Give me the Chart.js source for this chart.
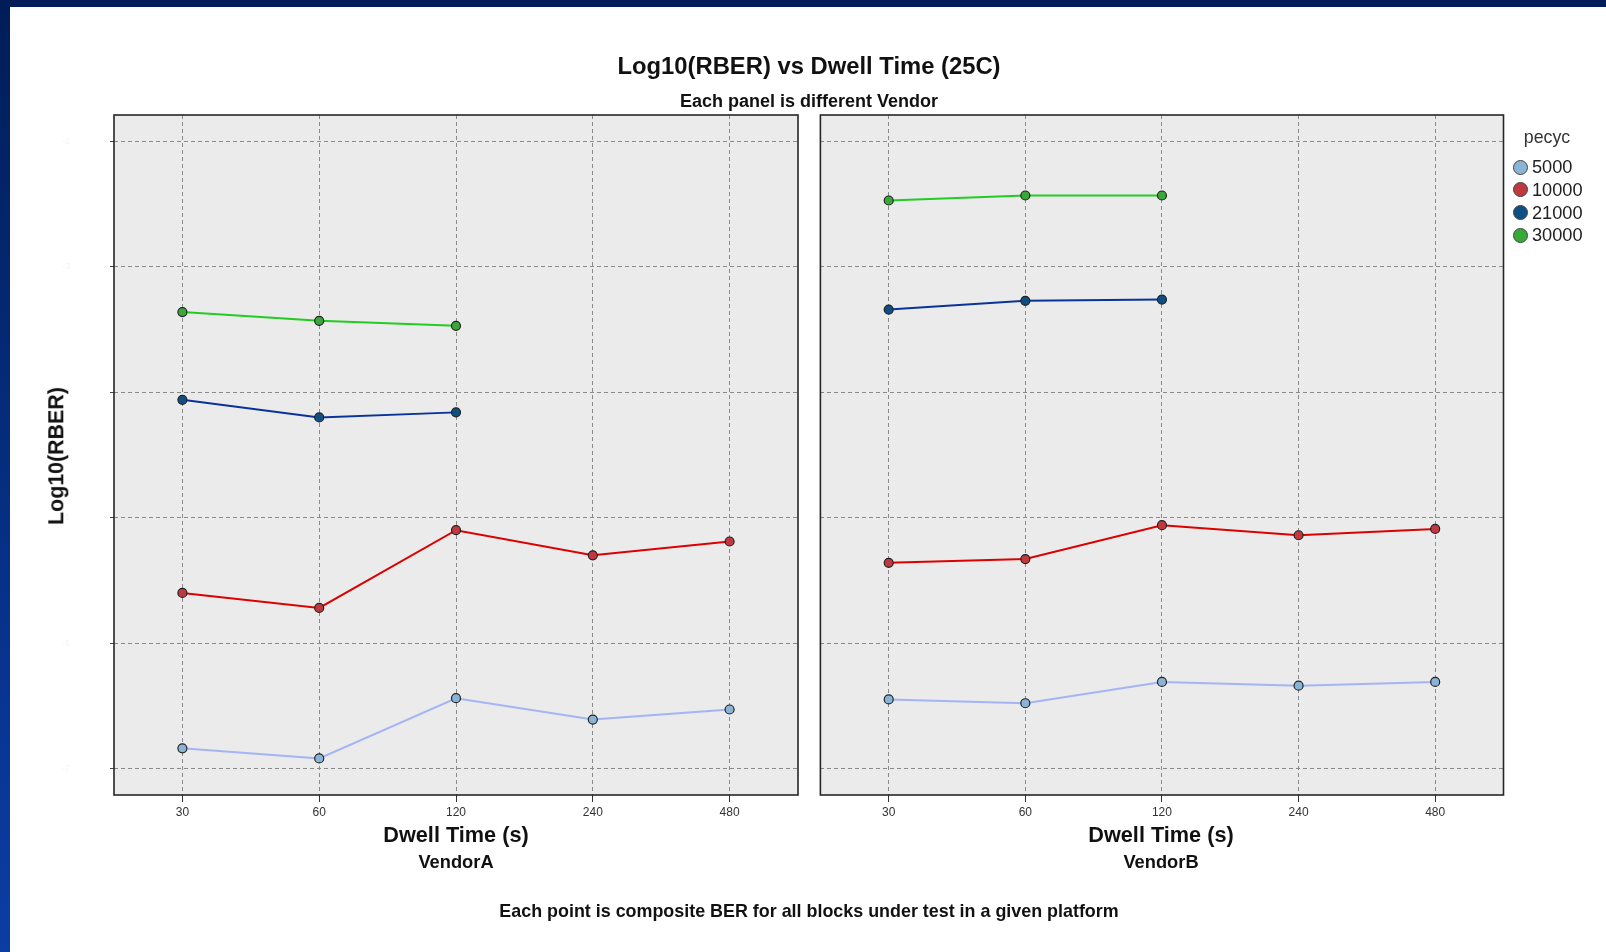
<!DOCTYPE html>
<html>
<head>
<meta charset="utf-8">
<script src="https://cdn.jsdelivr.net/npm/chart.js@4.4.1/dist/chart.umd.min.js"></script>
<style>
  html, body { margin: 0; padding: 0; background: #fff; }
  body { width: 1606px; height: 952px; position: relative; overflow: hidden; font-family: "Liberation Sans", Arial, sans-serif; }
  .band-top { position: absolute; left: 0; top: 0; width: 1606px; height: 7px; background: #001d58; z-index: 5; }
  .band-left { position: absolute; left: 0; top: 0; width: 10px; height: 952px; background: linear-gradient(#001d58, #08348f 70%, #0b3da3); z-index: 5; }
  canvas { position: absolute; top: 0; }
  .t { position: absolute; transform: translate(-50%, -50%); white-space: nowrap; line-height: 1; color: #111; font-weight: bold; }
  .item { position: absolute; white-space: nowrap; line-height: 1; }
  .dot { position: absolute; width: 15px; height: 15px; border-radius: 50%; border: 1px solid #444; box-sizing: border-box; }
</style>
</head>
<body>
<div class="band-top"></div>
<div class="band-left"></div>
<canvas id="panelA" width="806" height="952" style="left:0;width:806px;height:952px"></canvas>
<canvas id="panelB" width="800" height="952" style="left:806px;width:800px;height:952px"></canvas>

<div class="t" style="left:809px;top:65.5px;font-size:23.8px">Log10(RBER) vs Dwell Time (25C)</div>
<div class="t" style="left:809px;top:100.5px;font-size:18px">Each panel is different Vendor</div>
<div class="t" id="xtA" style="left:456px;top:835px;font-size:21.7px"></div>
<div class="t" id="xtB" style="left:1161px;top:835px;font-size:21.7px"></div>
<div class="t" id="vA" style="left:456px;top:862px;font-size:18.3px"></div>
<div class="t" id="vB" style="left:1161px;top:862px;font-size:18.3px"></div>
<div class="t" style="left:809px;top:912px;font-size:17.9px">Each point is composite BER for all blocks under test in a given platform</div>
<div class="t" style="left:57px;top:456px;font-size:21.4px;transform:translate(-50%,-50%) rotate(-90deg)">Log10(RBER)</div>
<div id="legend"></div>

<script>
// Dwell time categories (seconds) and vendor panels
const dwellTimes = ['30', '60', '120', '240', '480'];
const vendors = ['VendorA', 'VendorB'];
const xAxisTitle = 'Dwell Time (s)';
const legendTitle = 'pecyc';

// Program/erase cycle groups
const pecycGroups = ['5000', '10000', '21000', '30000'];

// Log10(RBER) per group, VendorA
const vendorA_5000  = [-6.84, -6.92, -6.44, -6.61, -6.53];
const vendorA_10000 = [-5.60, -5.72, -5.10, -5.30, -5.19];
const vendorA_21000 = [-4.06, -4.20, -4.16, null, null];
const vendorA_30000 = [-3.36, -3.43, -3.47, null, null];

// Log10(RBER) per group, VendorB
const vendorB_5000  = [-6.45, -6.48, -6.31, -6.34, -6.31];
const vendorB_10000 = [-5.36, -5.33, -5.06, -5.14, -5.09];
const vendorB_21000 = [-3.34, -3.27, -3.26, null, null];
const vendorB_30000 = [-2.47, -2.43, -2.43, null, null];

// Y gridline values
const yTicks = [-7, -6, -5, -4, -3, -2];
const yMin = -7.212, yMax = -1.788;

const lineColors  = ['#a4b4f4', '#dd0000', '#0a3399', '#22cc22'];
const pointColors = ['#8ab4d6', '#c0393f', '#0e4f86', '#38a838'];

function buildDatasets(seriesList) {
  return seriesList.map((vals, i) => ({
    label: pecycGroups[i],
    data: vals,
    borderColor: lineColors[i],
    backgroundColor: pointColors[i],
    pointBackgroundColor: pointColors[i],
    pointBorderColor: '#222',
    pointBorderWidth: 1.2,
    pointRadius: 4.5,
    borderWidth: 2,
    tension: 0,
    spanGaps: false
  }));
}

// Panel background and frame
const panelPlugin = {
  id: 'panel',
  beforeDraw(chart) {
    const a = chart.chartArea, ctx = chart.ctx;
    ctx.save();
    ctx.fillStyle = '#ebebeb';
    ctx.fillRect(a.left, a.top, a.right - a.left, a.bottom - a.top);
    ctx.restore();
  },
  afterDraw(chart) {
    const a = chart.chartArea, ctx = chart.ctx;
    ctx.save();
    ctx.strokeStyle = '#262626';
    ctx.lineWidth = 1.6;
    ctx.strokeRect(a.left, a.top, a.right - a.left, a.bottom - a.top);
    ctx.restore();
  }
};

function makePanel(id, seriesList, cfg) {
  return new Chart(document.getElementById(id), {
    type: 'line',
    data: { labels: dwellTimes, datasets: buildDatasets(seriesList) },
    options: {
      responsive: false,
      animation: false,
      layout: { padding: { left: 0, right: cfg.padRight, top: 115, bottom: 0 } },
      plugins: { legend: { display: false }, tooltip: { enabled: false } },
      scales: {
        x: {
          type: 'category',
          offset: true,
          grid: { offset: false, color: '#8a8a8a', lineWidth: 1, tickLength: 7, tickColor: '#333', tickBorderDash: [] },
          border: { display: false, dash: [4, 3] },
          ticks: { color: '#333', font: { family: 'Liberation Sans', size: 12 }, padding: 3, maxRotation: 0 },
          afterFit(s) { s.height = 157; }
        },
        y: {
          type: 'linear',
          min: yMin, max: yMax,
          afterBuildTicks(s) { s.ticks = yTicks.map(v => ({ value: v })); },
          grid: { color: '#8a8a8a', lineWidth: 1, drawTicks: cfg.showYLabels, tickLength: 4, tickColor: '#444', tickBorderDash: [] },
          border: { display: false, dash: [4, 3] },
          ticks: { display: cfg.showYLabels, color: 'rgba(0,0,0,0.05)', font: { family: 'Liberation Sans', size: 9 }, padding: 40 },
          afterFit(s) { s.width = cfg.yWidth; }
        }
      }
    },
    plugins: [panelPlugin]
  });
}

makePanel('panelA', [vendorA_5000, vendorA_10000, vendorA_21000, vendorA_30000], { padRight: 8, yWidth: 114, showYLabels: true });
makePanel('panelB', [vendorB_5000, vendorB_10000, vendorB_21000, vendorB_30000], { padRight: 102.5, yWidth: 14.4, showYLabels: false });

document.getElementById('xtA').textContent = xAxisTitle;
document.getElementById('xtB').textContent = xAxisTitle;
document.getElementById('vA').textContent = vendors[0];
document.getElementById('vB').textContent = vendors[1];

// Legend
const lg = document.getElementById('legend');
let html = '<div class="item" style="left:1547px;top:138px;transform:translate(-50%,-50%);font-size:17.8px;color:#333">' + legendTitle + '</div>';
const rowY = [167, 189.5, 212.5, 235];
pecycGroups.forEach((g, i) => {
  html += '<div class="dot" style="left:' + (1520 - 7.5) + 'px;top:' + (rowY[i] - 7.5) + 'px;background:' + pointColors[i] + '"></div>';
  html += '<div class="item" style="left:1532px;top:' + rowY[i] + 'px;transform:translateY(-50%);font-size:18.2px;color:#222">' + g + '</div>';
});
lg.innerHTML = html;
</script>
</body>
</html>
